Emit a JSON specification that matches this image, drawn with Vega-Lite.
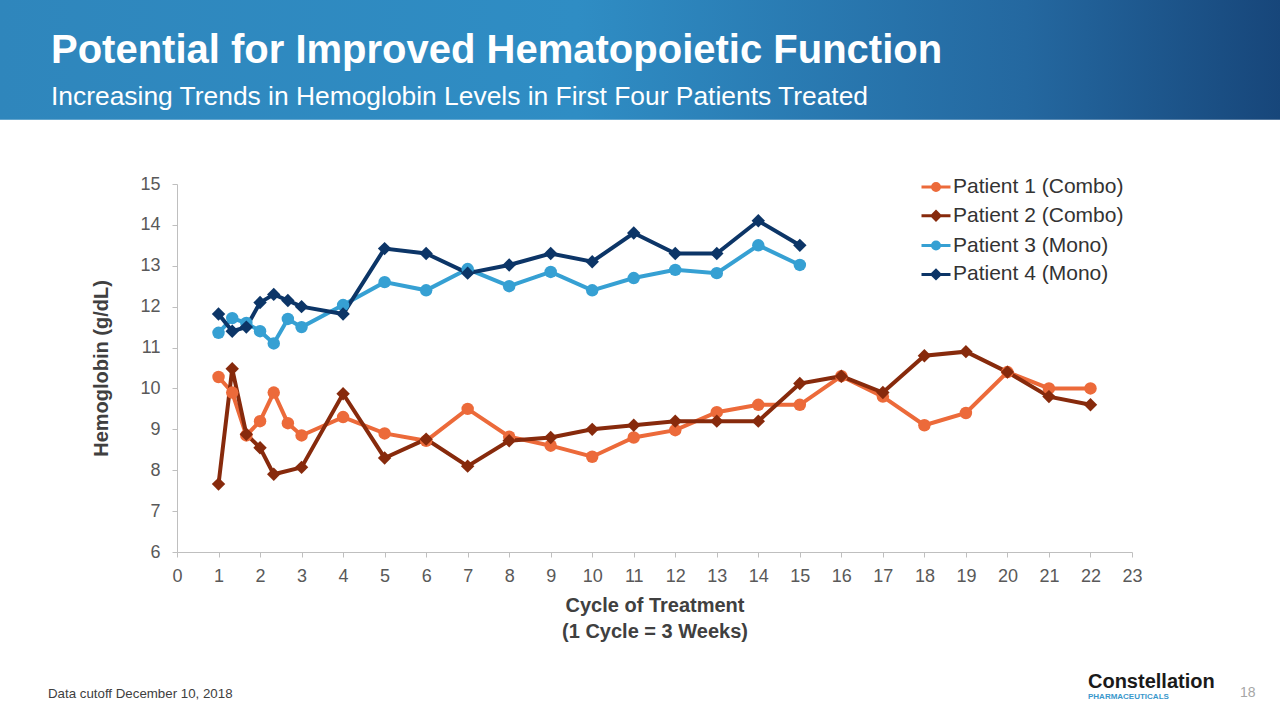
{
  "$schema": "https://vega.github.io/schema/vega-lite/v6.json",
  "width": 955,
  "height": 368,
  "autosize": {"type": "none"},
  "padding": {"left": 177, "top": 184, "right": 148, "bottom": 168},
  "background": "white",
  "config": {"view": {"stroke": null}, "font": "Liberation Sans"},
  "data": {
    "values": [
      {"cycle": 1, "hb": 10.28, "patient": "Patient 1 (Combo)"},
      {"cycle": 1.33, "hb": 9.9, "patient": "Patient 1 (Combo)"},
      {"cycle": 1.67, "hb": 8.85, "patient": "Patient 1 (Combo)"},
      {"cycle": 2, "hb": 9.2, "patient": "Patient 1 (Combo)"},
      {"cycle": 2.33, "hb": 9.9, "patient": "Patient 1 (Combo)"},
      {"cycle": 2.67, "hb": 9.15, "patient": "Patient 1 (Combo)"},
      {"cycle": 3, "hb": 8.85, "patient": "Patient 1 (Combo)"},
      {"cycle": 4, "hb": 9.3, "patient": "Patient 1 (Combo)"},
      {"cycle": 5, "hb": 8.9, "patient": "Patient 1 (Combo)"},
      {"cycle": 6, "hb": 8.72, "patient": "Patient 1 (Combo)"},
      {"cycle": 7, "hb": 9.5, "patient": "Patient 1 (Combo)"},
      {"cycle": 8, "hb": 8.82, "patient": "Patient 1 (Combo)"},
      {"cycle": 9, "hb": 8.6, "patient": "Patient 1 (Combo)"},
      {"cycle": 10, "hb": 8.33, "patient": "Patient 1 (Combo)"},
      {"cycle": 11, "hb": 8.8, "patient": "Patient 1 (Combo)"},
      {"cycle": 12, "hb": 8.98, "patient": "Patient 1 (Combo)"},
      {"cycle": 13, "hb": 9.42, "patient": "Patient 1 (Combo)"},
      {"cycle": 14, "hb": 9.6, "patient": "Patient 1 (Combo)"},
      {"cycle": 15, "hb": 9.6, "patient": "Patient 1 (Combo)"},
      {"cycle": 16, "hb": 10.3, "patient": "Patient 1 (Combo)"},
      {"cycle": 17, "hb": 9.8, "patient": "Patient 1 (Combo)"},
      {"cycle": 18, "hb": 9.1, "patient": "Patient 1 (Combo)"},
      {"cycle": 19, "hb": 9.4, "patient": "Patient 1 (Combo)"},
      {"cycle": 20, "hb": 10.4, "patient": "Patient 1 (Combo)"},
      {"cycle": 21, "hb": 10.0, "patient": "Patient 1 (Combo)"},
      {"cycle": 22, "hb": 10.0, "patient": "Patient 1 (Combo)"},
      {"cycle": 1, "hb": 7.66, "patient": "Patient 2 (Combo)"},
      {"cycle": 1.33, "hb": 10.48, "patient": "Patient 2 (Combo)"},
      {"cycle": 1.67, "hb": 8.88, "patient": "Patient 2 (Combo)"},
      {"cycle": 2, "hb": 8.55, "patient": "Patient 2 (Combo)"},
      {"cycle": 2.33, "hb": 7.9, "patient": "Patient 2 (Combo)"},
      {"cycle": 3, "hb": 8.07, "patient": "Patient 2 (Combo)"},
      {"cycle": 4, "hb": 9.87, "patient": "Patient 2 (Combo)"},
      {"cycle": 5, "hb": 8.3, "patient": "Patient 2 (Combo)"},
      {"cycle": 6, "hb": 8.76, "patient": "Patient 2 (Combo)"},
      {"cycle": 7, "hb": 8.1, "patient": "Patient 2 (Combo)"},
      {"cycle": 8, "hb": 8.72, "patient": "Patient 2 (Combo)"},
      {"cycle": 9, "hb": 8.8, "patient": "Patient 2 (Combo)"},
      {"cycle": 10, "hb": 9.0, "patient": "Patient 2 (Combo)"},
      {"cycle": 11, "hb": 9.1, "patient": "Patient 2 (Combo)"},
      {"cycle": 12, "hb": 9.2, "patient": "Patient 2 (Combo)"},
      {"cycle": 13, "hb": 9.2, "patient": "Patient 2 (Combo)"},
      {"cycle": 14, "hb": 9.2, "patient": "Patient 2 (Combo)"},
      {"cycle": 15, "hb": 10.12, "patient": "Patient 2 (Combo)"},
      {"cycle": 16, "hb": 10.3, "patient": "Patient 2 (Combo)"},
      {"cycle": 17, "hb": 9.9, "patient": "Patient 2 (Combo)"},
      {"cycle": 18, "hb": 10.8, "patient": "Patient 2 (Combo)"},
      {"cycle": 19, "hb": 10.9, "patient": "Patient 2 (Combo)"},
      {"cycle": 20, "hb": 10.4, "patient": "Patient 2 (Combo)"},
      {"cycle": 21, "hb": 9.8, "patient": "Patient 2 (Combo)"},
      {"cycle": 22, "hb": 9.6, "patient": "Patient 2 (Combo)"},
      {"cycle": 1, "hb": 11.36, "patient": "Patient 3 (Mono)"},
      {"cycle": 1.33, "hb": 11.72, "patient": "Patient 3 (Mono)"},
      {"cycle": 1.67, "hb": 11.6, "patient": "Patient 3 (Mono)"},
      {"cycle": 2, "hb": 11.4, "patient": "Patient 3 (Mono)"},
      {"cycle": 2.33, "hb": 11.1, "patient": "Patient 3 (Mono)"},
      {"cycle": 2.67, "hb": 11.7, "patient": "Patient 3 (Mono)"},
      {"cycle": 3, "hb": 11.5, "patient": "Patient 3 (Mono)"},
      {"cycle": 4, "hb": 12.04, "patient": "Patient 3 (Mono)"},
      {"cycle": 5, "hb": 12.6, "patient": "Patient 3 (Mono)"},
      {"cycle": 6, "hb": 12.4, "patient": "Patient 3 (Mono)"},
      {"cycle": 7, "hb": 12.92, "patient": "Patient 3 (Mono)"},
      {"cycle": 8, "hb": 12.5, "patient": "Patient 3 (Mono)"},
      {"cycle": 9, "hb": 12.85, "patient": "Patient 3 (Mono)"},
      {"cycle": 10, "hb": 12.4, "patient": "Patient 3 (Mono)"},
      {"cycle": 11, "hb": 12.7, "patient": "Patient 3 (Mono)"},
      {"cycle": 12, "hb": 12.9, "patient": "Patient 3 (Mono)"},
      {"cycle": 13, "hb": 12.82, "patient": "Patient 3 (Mono)"},
      {"cycle": 14, "hb": 13.5, "patient": "Patient 3 (Mono)"},
      {"cycle": 15, "hb": 13.02, "patient": "Patient 3 (Mono)"},
      {"cycle": 1, "hb": 11.82, "patient": "Patient 4 (Mono)"},
      {"cycle": 1.33, "hb": 11.4, "patient": "Patient 4 (Mono)"},
      {"cycle": 1.67, "hb": 11.5, "patient": "Patient 4 (Mono)"},
      {"cycle": 2, "hb": 12.1, "patient": "Patient 4 (Mono)"},
      {"cycle": 2.33, "hb": 12.3, "patient": "Patient 4 (Mono)"},
      {"cycle": 2.67, "hb": 12.15, "patient": "Patient 4 (Mono)"},
      {"cycle": 3, "hb": 12.0, "patient": "Patient 4 (Mono)"},
      {"cycle": 4, "hb": 11.82, "patient": "Patient 4 (Mono)"},
      {"cycle": 5, "hb": 13.42, "patient": "Patient 4 (Mono)"},
      {"cycle": 6, "hb": 13.3, "patient": "Patient 4 (Mono)"},
      {"cycle": 7, "hb": 12.82, "patient": "Patient 4 (Mono)"},
      {"cycle": 8, "hb": 13.02, "patient": "Patient 4 (Mono)"},
      {"cycle": 9, "hb": 13.3, "patient": "Patient 4 (Mono)"},
      {"cycle": 10, "hb": 13.1, "patient": "Patient 4 (Mono)"},
      {"cycle": 11, "hb": 13.8, "patient": "Patient 4 (Mono)"},
      {"cycle": 12, "hb": 13.3, "patient": "Patient 4 (Mono)"},
      {"cycle": 13, "hb": 13.3, "patient": "Patient 4 (Mono)"},
      {"cycle": 14, "hb": 14.1, "patient": "Patient 4 (Mono)"},
      {"cycle": 15, "hb": 13.5, "patient": "Patient 4 (Mono)"}
    ]
  },
  "layer": [
    {
      "data": {"values": [{}]},
      "mark": {
        "type": "rect",
        "color": {
          "gradient": "linear", "x1": 0, "x2": 1, "y1": 0, "y2": 0,
          "stops": [
            {"offset": 0, "color": "#2f86bc"},
            {"offset": 0.45, "color": "#2f8dc4"},
            {"offset": 0.8, "color": "#2468a0"},
            {"offset": 1, "color": "#17467a"}
          ]
        }
      },
      "encoding": {
        "x": {"datum": -4.27, "type": "quantitative", "scale": {"domain": [0, 23], "nice": false}},
        "x2": {"datum": 26.6},
        "y": {"datum": 19.52, "type": "quantitative", "scale": {"domain": [6, 15], "nice": false, "zero": false}},
        "y2": {"datum": 16.57}
      }
    },
    {
      "data": {"values": [{}]},
      "mark": {"type": "text", "text": "Potential for Improved Hematopoietic Function", "align": "left", "baseline": "alphabetic", "fontSize": 40, "fontWeight": "bold", "color": "white", "font": "Liberation Sans"},
      "encoding": {
        "x": {"datum": -3.035, "type": "quantitative"},
        "y": {"datum": 17.96, "type": "quantitative"}
      }
    },
    {
      "data": {"values": [{}]},
      "mark": {"type": "text", "text": "Increasing Trends in Hemoglobin Levels in First Four Patients Treated", "align": "left", "baseline": "alphabetic", "fontSize": 26.4, "color": "white", "font": "Liberation Sans"},
      "encoding": {
        "x": {"datum": -3.035, "type": "quantitative"},
        "y": {"datum": 16.94, "type": "quantitative"}
      }
    },
    {
      "mark": {"type": "line", "strokeWidth": 4},
      "encoding": {
        "x": {
          "field": "cycle", "type": "quantitative",
          "scale": {"domain": [0, 23], "nice": false},
          "axis": {
            "values": [0,1,2,3,4,5,6,7,8,9,10,11,12,13,14,15,16,17,18,19,20,21,22,23],
            "title": ["Cycle of Treatment", "(1 Cycle = 3 Weeks)"],
            "titleFont": "Liberation Sans", "titleFontSize": 20, "titleFontWeight": "bold", "titleColor": "#404040",
            "titleLineHeight": 26, "titlePadding": 10,
            "labelFont": "Liberation Sans", "labelFontSize": 18, "labelColor": "#595959", "labelPadding": 10,
            "domainColor": "#bfbfbf", "tickColor": "#bfbfbf", "tickSize": 5, "grid": false, "labelFlush": false
          }
        },
        "y": {
          "field": "hb", "type": "quantitative",
          "scale": {"domain": [6, 15], "nice": false, "zero": false},
          "axis": {
            "values": [6,7,8,9,10,11,12,13,14,15],
            "title": "Hemoglobin (g/dL)",
            "titleFont": "Liberation Sans", "titleFontSize": 20, "titleFontWeight": "bold", "titleColor": "#404040",
            "titlePadding": 28,
            "labelFont": "Liberation Sans", "labelFontSize": 18, "labelColor": "#595959", "labelPadding": 12,
            "domainColor": "#bfbfbf", "tickColor": "#bfbfbf", "tickSize": 5, "grid": false, "labelFlush": false
          }
        },
        "color": {
          "field": "patient", "type": "nominal",
          "scale": {
            "domain": ["Patient 1 (Combo)", "Patient 2 (Combo)", "Patient 3 (Mono)", "Patient 4 (Mono)"],
            "range": ["#ec6a3a", "#872a0c", "#36a0d3", "#0c3567"]
          },
          "legend": {
            "orient": "none", "legendX": 743, "legendY": -13, "title": null,
            "labelFont": "Liberation Sans", "labelFontSize": 21, "labelColor": "#333333", "labelLimit": 300,
            "labelOffset": 1, "symbolSize": 841, "symbolStrokeWidth": 3, "rowPadding": 2.8,
            "encode": {
              "symbols": {
                "update": {
                  "shape": {"signal": "datum.index % 2 === 0 ? 'M-1,0L1,0M-0.24,0A0.24,0.24 0 1 1 0.24,0A0.24,0.24 0 1 1 -0.24,0Z' : 'M-1,0L1,0M-0.28,0L0,-0.28L0.28,0L0,0.28Z'"},
                  "fill": {"scale": "color", "field": "value"},
                  "stroke": {"scale": "color", "field": "value"},
                  "strokeWidth": {"value": 3},
                  "opacity": {"value": 1}
                }
              }
            }
          }
        },
        "order": {"field": "cycle", "type": "quantitative"}
      }
    },
    {
      "transform": [{"filter": "indexof(datum.patient, 'Patient 1') === 0 || indexof(datum.patient, 'Patient 3') === 0"}],
      "mark": {"type": "point", "shape": "circle", "filled": true, "opacity": 1, "size": 155},
      "encoding": {
        "x": {"field": "cycle", "type": "quantitative", "scale": {"domain": [0, 23], "nice": false}},
        "y": {"field": "hb", "type": "quantitative", "scale": {"domain": [6, 15], "nice": false, "zero": false}},
        "color": {"field": "patient", "type": "nominal"}
      }
    },
    {
      "transform": [{"filter": "indexof(datum.patient, 'Patient 2') === 0 || indexof(datum.patient, 'Patient 4') === 0"}],
      "mark": {"type": "point", "shape": "diamond", "filled": true, "opacity": 1, "size": 180},
      "encoding": {
        "x": {"field": "cycle", "type": "quantitative", "scale": {"domain": [0, 23], "nice": false}},
        "y": {"field": "hb", "type": "quantitative", "scale": {"domain": [6, 15], "nice": false, "zero": false}},
        "color": {"field": "patient", "type": "nominal"}
      }
    },
    {
      "data": {"values": [{}]},
      "mark": {"type": "text", "text": "Data cutoff December 10, 2018", "align": "left", "baseline": "middle", "fontSize": 13.3, "color": "#404040", "font": "Liberation Sans"},
      "encoding": {
        "x": {"datum": -3.107, "type": "quantitative"},
        "y": {"datum": 2.53, "type": "quantitative"}
      }
    },
    {
      "data": {"values": [{}]},
      "mark": {"type": "text", "text": "Constellation", "align": "left", "baseline": "middle", "fontSize": 20, "fontWeight": "bold", "color": "#1a1a1a", "font": "Liberation Sans"},
      "encoding": {
        "x": {"datum": 21.94, "type": "quantitative"},
        "y": {"datum": 2.82, "type": "quantitative"}
      }
    },
    {
      "data": {"values": [{}]},
      "mark": {"type": "text", "text": "PHARMACEUTICALS", "align": "left", "baseline": "middle", "fontSize": 8, "fontWeight": "bold", "color": "#3a98cc", "font": "Liberation Sans"},
      "encoding": {
        "x": {"datum": 21.94, "type": "quantitative"},
        "y": {"datum": 2.46, "type": "quantitative"}
      }
    },
    {
      "data": {"values": [{}]},
      "mark": {"type": "text", "text": "18", "align": "center", "baseline": "middle", "fontSize": 14, "color": "#a6a6a6", "font": "Liberation Sans"},
      "encoding": {
        "x": {"datum": 25.79, "type": "quantitative"},
        "y": {"datum": 2.55, "type": "quantitative"}
      }
    }
  ]
}
